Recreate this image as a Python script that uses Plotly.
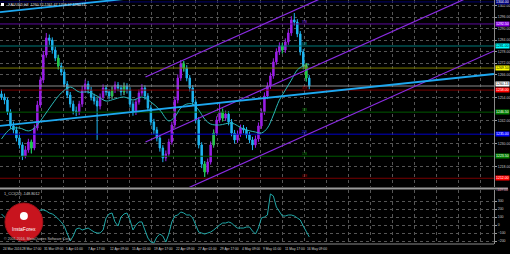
import plotly.graph_objects as go

# ---------------- data ----------------
symbol_title = "XAUUSD,H4  1260.32 1261.47 1258.37 1260.13"
cci_title = "1_CCI(20) -148.8012"
copyright_text = "\u00a9 2001-2016, MetaQuotes Software Corp."

first_open = 1256.0
close = [1254.4, 1252.8, 1246.6, 1239.3, 1237.2, 1233.0, 1229.4, 1223.6, 1226.8, 1230.9,
         1227.8, 1238.2, 1250.2, 1263.3, 1276.3, 1285.2, 1284.1, 1278.9, 1274.7, 1270.6,
         1267.4, 1261.2, 1255.4, 1250.7, 1247.1, 1246.6, 1250.7, 1258.1, 1261.2, 1258.1,
         1254.4, 1252.3, 1249.7, 1254.4, 1259.1, 1257.0, 1254.9, 1258.1, 1260.7, 1259.1,
         1257.0, 1260.1, 1258.1, 1250.7, 1246.6, 1251.8, 1256.5, 1259.1, 1254.9, 1248.7,
         1241.4, 1237.2, 1233.0, 1227.8, 1222.6, 1224.7, 1230.9, 1239.8, 1252.8, 1264.3,
         1271.6, 1269.5, 1264.3, 1259.1, 1251.8, 1242.4, 1229.4, 1219.4, 1215.3, 1220.5,
         1229.4, 1235.6, 1242.4, 1246.6, 1243.4, 1245.5, 1241.4, 1235.6, 1232.0, 1235.1,
         1238.2, 1237.2, 1234.6, 1232.0, 1229.4, 1232.5, 1239.3, 1246.6, 1254.9, 1260.1,
         1265.4, 1272.7, 1277.9, 1281.0, 1278.9, 1283.1, 1287.8, 1294.6, 1293.5, 1287.3,
         1277.9, 1270.6, 1264.3, 1260.1]
high = [1258.3, 1256.2, 1254.0, 1248.0, 1241.5, 1238.9, 1234.6, 1230.8, 1228.9, 1232.6,
        1232.1, 1240.0, 1252.4, 1265.1, 1278.4, 1287.8, 1287.0, 1285.5, 1280.6, 1276.4,
        1272.3, 1268.9, 1262.7, 1257.0, 1252.5, 1249.4, 1252.4, 1260.2, 1263.4, 1262.8,
        1259.7, 1256.1, 1253.9, 1256.2, 1261.0, 1260.6, 1258.5, 1259.9, 1262.5, 1262.2,
        1260.7, 1261.9, 1261.6, 1259.5, 1252.2, 1253.5, 1258.3, 1261.1, 1260.5, 1256.4,
        1250.2, 1243.0, 1238.8, 1234.5, 1229.3, 1226.5, 1232.6, 1241.5, 1254.6, 1266.2,
        1273.7, 1273.1, 1271.0, 1265.8, 1260.6, 1253.2, 1243.9, 1230.8, 1220.9, 1222.3,
        1231.2, 1237.4, 1244.3, 1251.3, 1248.3, 1247.3, 1247.0, 1242.9, 1237.2, 1236.9,
        1240.0, 1239.8, 1238.7, 1236.1, 1233.6, 1234.3, 1241.1, 1248.4, 1256.8, 1262.0,
        1267.2, 1274.6, 1279.8, 1282.9, 1282.6, 1285.0, 1289.7, 1296.6, 1298.2, 1295.0,
        1288.8, 1279.4, 1272.1, 1265.8]
low = [1252.9, 1250.6, 1245.1, 1237.8, 1235.4, 1231.2, 1227.5, 1221.5, 1222.4, 1225.3,
       1225.0, 1226.6, 1236.9, 1248.8, 1261.7, 1274.9, 1281.6, 1277.0, 1273.1, 1268.8,
       1265.6, 1259.5, 1253.8, 1248.9, 1245.3, 1244.4, 1245.0, 1249.2, 1256.6, 1256.2,
       1252.6, 1250.5, 1232.0, 1247.9, 1252.8, 1255.2, 1253.1, 1253.4, 1256.5, 1257.4,
       1255.1, 1255.4, 1256.2, 1248.9, 1244.6, 1245.0, 1250.4, 1255.0, 1253.0, 1247.0,
       1239.6, 1235.1, 1231.2, 1225.9, 1220.4, 1220.9, 1223.2, 1229.5, 1238.3, 1251.1,
       1262.8, 1267.7, 1262.6, 1257.3, 1249.9, 1240.6, 1227.6, 1217.3, 1212.7, 1214.0,
       1219.1, 1228.0, 1234.1, 1241.0, 1241.7, 1241.9, 1239.6, 1233.9, 1230.2, 1230.5,
       1233.6, 1235.5, 1232.8, 1230.3, 1226.7, 1227.9, 1231.0, 1237.8, 1245.1, 1253.3,
       1258.6, 1263.9, 1271.2, 1276.3, 1277.1, 1277.4, 1281.6, 1286.3, 1291.7, 1285.6,
       1276.1, 1268.8, 1262.5, 1258.4]
green_bars = [10, 19, 37, 41, 61, 68, 71, 74, 94, 102]

ma_bars = [0, 3, 6, 9, 11, 14, 17, 20, 23, 26, 29, 32, 35, 38, 41, 44, 47, 50, 53, 56,
           58, 60, 62, 64, 66, 68, 70, 73, 77, 81, 85, 87, 89, 91, 93, 95, 97, 99, 101, 103]
ma_vals = [1232.5, 1237.7, 1238.2, 1236.7, 1238.2, 1244.0, 1250.7, 1256.5, 1259.6, 1257.0,
           1257.0, 1254.9, 1252.3, 1253.4, 1254.4, 1252.8, 1254.4, 1251.8, 1247.6, 1241.9,
           1244.0, 1248.7, 1250.7, 1250.7, 1247.6, 1242.9, 1240.3, 1239.8, 1240.8, 1237.7,
           1236.1, 1235.6, 1238.2, 1245.0, 1252.8, 1258.0, 1263.2, 1268.5, 1270.6, 1271.3]

cci = [138, 100, 63, 38, 0, -38, -88, -138, -88, -13,
       -38, 63, 138, 188, 188, 175, 150, 138, 113, 75,
       38, -13, -113, -200, -138, -50, -38, -63, -50, -38,
       -63, -88, -100, -100, -63, 88, 138, 150, 38, -13,
       100, 138, 150, 63, -63, 0, 38, 38, -63, -163,
       -213, -225, -150, -113, -138, -213, -113, 38, 113, 125,
       163, 150, 125, 125, 88, -13, -88, -100, -113, -100,
       -88, -63, -25, 0, 25, 25, 38, 25, -13, -38,
       -38, -38, -25, -25, -75, -113, -38, 88, 100, 125,
       388, 363, 225, 163, 113, 113, 125, 125, 113, 88,
       63, -13, -88, -149]

levels = [1304.0, 1292.5, 1281.0, 1269.5, 1258.0, 1246.5, 1235.0, 1223.5, 1212.0]
level_marks = ["8/8", "7/8", "6/8", "5/8", "4/8", "3/8", "2/8", "1/8", "0/8"]
level_line_colors = ["#00006e", "#5a0a9a", "#007a7a", "#7a7a00", "#7a0000",
                     "#005a00", "#0000c8", "#005a00", "#7a0000"]
level_box_colors = ["#000080", "#8a00e6", "#00ffff", "#ffff00", "#ff0000",
                    "#008000", "#0000ff", "#008000", "#ff0000"]
level_box_text = ["#ffffff", "#ffffff", "#000000", "#000000", "#ffffff",
                  "#ffffff", "#ffffff", "#ffffff", "#ffffff"]
level_text_colors = [None, "#9933ff", "#00a8a8", "#a8a800", "#b00000",
                     "#009000", "#3030ff", "#009000", "#b00000"]
bid_price = 1260.13
price_ticks = [1302, 1296, 1290, 1284, 1278, 1272, 1266, 1254, 1242, 1230, 1218]
cci_ticks = [-200, -100, 0, 100, 200, 300]

channel_bars = [48.2, 164.8]
channel_upper = [1264.8, 1346.2]
channel_middle = [1230.9, 1312.3]
channel_lower = [1197.0, 1278.4]
trend_bars = [-0.5, 164.8]
trend_upper = [1298.7, 1325.8]
trend_lower = [1239.3, 1266.4]

date_labels = ["24 Mar 2016", "28 Mar 17:00", "31 Mar 09:00", "5 Apr 01:00", "7 Apr 17:00",
               "12 Apr 09:00", "15 Apr 01:00", "19 Apr 17:00", "22 Apr 09:00", "27 Apr 01:00",
               "29 Apr 17:00", "4 May 09:00", "9 May 01:00", "11 May 17:00", "16 May 09:00"]

# ---------------- figure ----------------
W, H = 510, 254
ML, MR, MT, MB = 0, 14, 0, 10
PW, PH = W - ML - MR, H - MT - MB
FONT = "Liberation Sans"

bars = list(range(len(close)))
opens = [first_open] + close[:-1]

X_RANGE = [-0.5, -0.5 + PW / 3.0]
Y_RANGE = [1305.0 - 187 * 0.5217, 1305.0]
CCI_RANGE = [-237.5, 437.5]
main_dom = [1 - 187 / PH, 1]
ind_dom = [0, (PH - 190) / PH]

fig = go.Figure()

# horizontal level lines (drawn first, under the candles)
for lv, col in zip(levels, level_line_colors):
    fig.add_trace(go.Scatter(x=X_RANGE, y=[lv, lv], mode="lines", line=dict(color=col, width=1),
                             xaxis="x", yaxis="y", hoverinfo="skip"))
fig.add_trace(go.Scatter(x=X_RANGE, y=[bid_price, bid_price], mode="lines",
                         line=dict(color="#8a8a8a", width=1), xaxis="x", yaxis="y", hoverinfo="skip"))

fig.add_trace(go.Candlestick(
    x=bars, open=opens, high=high, low=low, close=close,
    increasing=dict(line=dict(color="#9a1ee6", width=1), fillcolor="#9a1ee6"),
    decreasing=dict(line=dict(color="#1eb4f0", width=1), fillcolor="#1eb4f0"),
    whiskerwidth=0, xaxis="x", yaxis="y", hoverinfo="skip"))

fig.add_trace(go.Candlestick(
    x=[bars[i] for i in green_bars], open=[opens[i] for i in green_bars],
    high=[high[i] for i in green_bars], low=[low[i] for i in green_bars],
    close=[close[i] for i in green_bars],
    increasing=dict(line=dict(color="#22c840", width=1), fillcolor="#22c840"),
    decreasing=dict(line=dict(color="#22c840", width=1), fillcolor="#22c840"),
    whiskerwidth=0, xaxis="x", yaxis="y", hoverinfo="skip"))

fig.add_trace(go.Scatter(x=ma_bars, y=ma_vals, mode="lines",
                         line=dict(color="#2ab8b8", width=1, shape="spline"),
                         xaxis="x", yaxis="y", hoverinfo="skip"))

for ys in (channel_upper, channel_middle, channel_lower):
    fig.add_trace(go.Scatter(x=channel_bars, y=ys, mode="lines", line=dict(color="#8a2be2", width=1.2),
                             xaxis="x", yaxis="y", hoverinfo="skip"))
for ys in (trend_upper, trend_lower):
    fig.add_trace(go.Scatter(x=trend_bars, y=ys, mode="lines", line=dict(color="#1ea8f0", width=1.8),
                             xaxis="x", yaxis="y", hoverinfo="skip"))

fig.add_trace(go.Scatter(x=bars, y=cci, mode="lines", line=dict(color="#20a8a8", width=1),
                         xaxis="x2", yaxis="y2", hoverinfo="skip"))

shapes = []
sep_y = (PH - 188.5) / PH
shapes.append(dict(type="line", xref="paper", yref="paper", x0=0, x1=W / PW, y0=sep_y, y1=sep_y,
                   line=dict(color="#9a9a9a", width=2)))
shapes.append(dict(type="line", xref="paper", yref="paper", x0=0, x1=1, y0=0, y1=0,
                   line=dict(color="#8a8a8a", width=1)))
shapes.append(dict(type="rect", xref="paper", yref="paper", x0=1 / PW, x1=4 / PW,
                   y0=(PH - 6) / PH, y1=(PH - 3) / PH, fillcolor="#ffffff", line=dict(width=0)))
cx, cy, r = 24, 222, 19
shapes.append(dict(type="circle", xref="paper", yref="paper", x0=(cx - r) / PW, x1=(cx + r) / PW,
                   y0=(PH - cy - r) / PH, y1=(PH - cy + r) / PH, fillcolor="#c8141e",
                   line=dict(color="#a01018", width=1)))
shapes.append(dict(type="circle", xref="paper", yref="paper", x0=(cx - 4) / PW, x1=(cx + 4) / PW,
                   y0=(PH - 216 - 4) / PH, y1=(PH - 216 + 4) / PH, fillcolor="#ffffff",
                   line=dict(width=0)))

ann = []
ann.append(dict(text=symbol_title, xref="paper", yref="paper", x=6 / PW, y=1, xanchor="left", yanchor="top",
                showarrow=False, font=dict(family=FONT, size=3.6, color="#e0e0e0"), yshift=-1))
ann.append(dict(text=cci_title, xref="paper", yref="paper", x=2 / PW, y=(PH - 190) / PH, xanchor="left",
                yanchor="top", showarrow=False, font=dict(family=FONT, size=3.8, color="#d0d0d0")))
ann.append(dict(text=copyright_text, xref="paper", yref="paper", x=2 / PW, y=1 / PH, xanchor="left",
                yanchor="bottom", showarrow=False, font=dict(family=FONT, size=3.6, color="#c0c0c0")))
ann.append(dict(text="InstaForex", xref="paper", yref="paper", x=cx / PW, y=(PH - 229) / PH,
                xanchor="center", yanchor="middle", showarrow=False,
                font=dict(family=FONT, size=5, color="#ffffff")))

for lv, mk, bc, tc, txc in zip(levels, level_marks, level_box_colors, level_box_text, level_text_colors):
    ann.append(dict(text=f"{lv:.2f}", xref="paper", yref="y", x=1, y=lv, xanchor="left", yanchor="middle",
                    showarrow=False, bgcolor=bc, borderpad=0, xshift=0.5,
                    font=dict(family=FONT, size=3.5, color=tc)))
    if txc:
        ann.append(dict(text=mk, xref="x", yref="y", x=bars[-4], y=lv, xanchor="left", yanchor="bottom",
                        showarrow=False, font=dict(family=FONT, size=3.5, color=txc), yshift=-2))
ann.append(dict(text=f"{bid_price:.2f}", xref="paper", yref="y", x=1, y=bid_price, xanchor="left",
                yanchor="bottom", showarrow=False, bgcolor="#ffffff", borderpad=0, xshift=0.5, yshift=-1,
                font=dict(family=FONT, size=3.5, color="#000000")))
ann.append(dict(text=f"{cci[-1]:.2f}", xref="paper", yref="paper", x=1, y=(PH - 190) / PH, xanchor="left",
                yanchor="middle", showarrow=False, borderpad=0, xshift=0.5,
                font=dict(family=FONT, size=3.5, color="#e0a0c0")))

GRID_T0 = (-2 - 1.5) / 3.0
GRID_DT = 22 / 3.0
for k, lab in enumerate(date_labels):
    pos = max(GRID_T0 + k * GRID_DT, X_RANGE[0])
    ann.append(dict(text=lab, xref="x", yref="paper", x=pos, y=-4.5 / PH,
                    xanchor="left", yanchor="middle", showarrow=False, xshift=0.5,
                    font=dict(family=FONT, size=3.3, color="#d0d0d0")))

grid = dict(showgrid=True, gridcolor="#555555", griddash="dot", gridwidth=1, zeroline=False)

fig.update_layout(
    width=W, height=H, margin=dict(l=ML, r=MR, t=MT, b=MB),
    paper_bgcolor="#000000", plot_bgcolor="#000000", showlegend=False,
    xaxis=dict(domain=[0, 1], range=X_RANGE, anchor="y", tickmode="linear", tick0=GRID_T0, dtick=GRID_DT,
               showticklabels=False, ticks="", rangeslider=dict(visible=False), **grid),
    xaxis2=dict(domain=[0, 1], range=X_RANGE, anchor="y2", matches="x", tickmode="linear", tick0=GRID_T0,
                dtick=GRID_DT, showticklabels=False, ticks="", **grid),
    yaxis=dict(domain=main_dom, range=Y_RANGE, side="right", tickmode="array", tickvals=price_ticks,
               tickformat=".2f", tickfont=dict(family=FONT, size=3.5, color="#c8c8c8"),
               ticks="outside", ticklen=2, tickcolor="#9a9a9a", showline=True, linecolor="#8a8a8a",
               linewidth=1, **grid),
    yaxis2=dict(domain=ind_dom, range=CCI_RANGE, side="right", tickmode="array", tickvals=cci_ticks,
                tickfont=dict(family=FONT, size=3.5, color="#c8c8c8"), ticks="outside", ticklen=2,
                tickcolor="#9a9a9a", showline=True, linecolor="#8a8a8a", linewidth=1, **grid),
    shapes=shapes, annotations=ann,
)

fig.write_html("out.html")
